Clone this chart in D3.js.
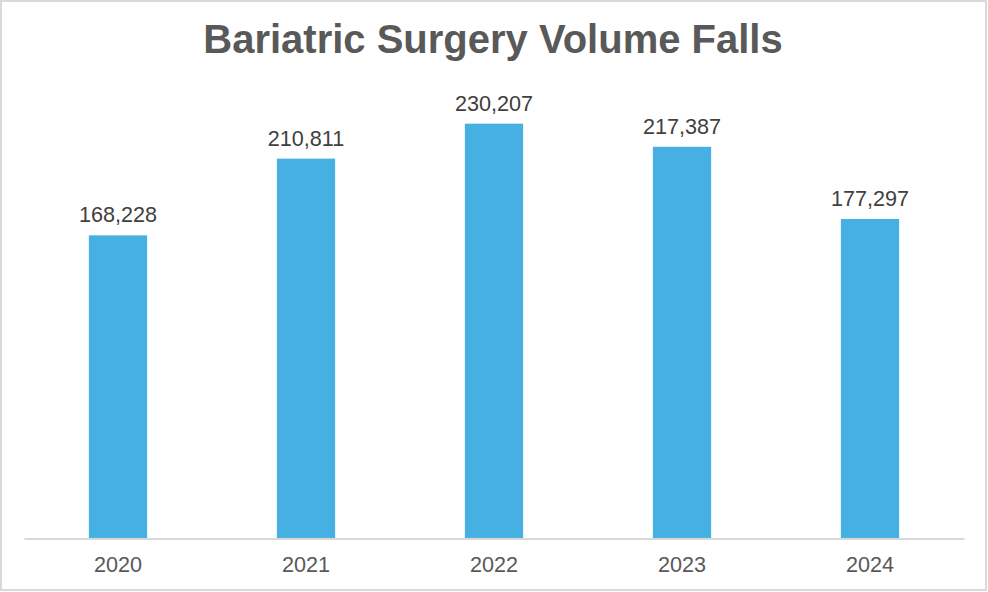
<!DOCTYPE html>
<html><head><meta charset="utf-8">
<script src="https://cdn.jsdelivr.net/npm/d3@7"></script>
<style>body{margin:0;background:#fff}svg{display:block}</style>
</head><body>
<script>
const categories = ["2020","2021","2022","2023","2024"];
const values = [168228, 210811, 230207, 217387, 177297];
const title = "Bariatric Surgery Volume Falls";

const W = 988, H = 592;
const svg = d3.select("body").append("svg").attr("width", W).attr("height", H);
svg.append("rect").attr("x",1).attr("y",1).attr("width",W-3).attr("height",H-3)
  .attr("fill","#fff").attr("stroke","#d9d9d9").attr("stroke-width",2);

const x = d3.scaleBand().domain(categories).range([24, 964]).paddingInner(0.69).paddingOuter(0.345);
const y = d3.scaleLinear().domain([0, 250000]).range([538.5, 88]);

svg.append("text").attr("x", W/2 - 1).attr("y", 53).attr("text-anchor","middle")
  .attr("font-family","Liberation Sans, Arial, sans-serif").attr("font-weight","bold")
  .attr("font-size",40).attr("fill","#595959").text(title);

svg.selectAll("rect.bar").data(values).join("rect").attr("class","bar")
  .attr("x",(d,i)=>x(categories[i])).attr("width",x.bandwidth())
  .attr("y",d=>y(d)).attr("height",d=>y(0)-y(d)).attr("fill","#45B0E1");

svg.selectAll("text.lbl").data(values).join("text").attr("class","lbl")
  .attr("x",(d,i)=>x(categories[i])+x.bandwidth()/2).attr("y",d=>y(d)-13)
  .attr("text-anchor","middle").attr("font-family","Liberation Sans, Arial, sans-serif")
  .attr("font-size",21.6).attr("fill","#404040").text(d=>d3.format(",")(d));

const ax = svg.append("g").attr("transform",`translate(0,${y(0)})`)
  .call(d3.axisBottom(x).tickSize(0).tickPadding(0));
ax.select(".domain").attr("stroke","#d9d9d9").attr("stroke-width",2);
ax.selectAll("text").attr("font-family","Liberation Sans, Arial, sans-serif")
  .attr("font-size",21.6).attr("fill","#595959").attr("dy",null).attr("y",33.5);
</script>
</body></html>
